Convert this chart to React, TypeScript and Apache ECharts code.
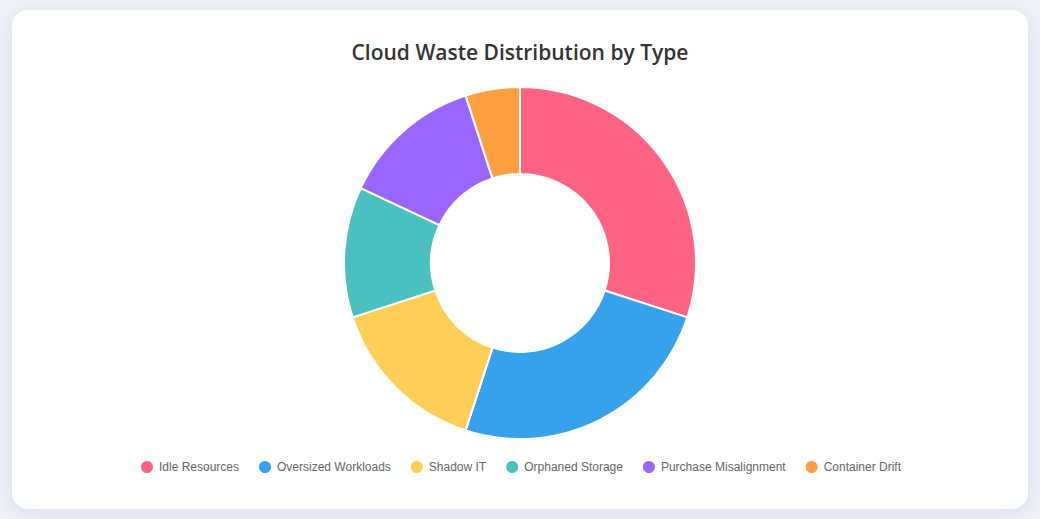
import React, { useEffect, useRef } from 'react';
import * as echarts from 'echarts';

const categories = [
  'Idle Resources',
  'Oversized Workloads',
  'Shadow IT',
  'Orphaned Storage',
  'Purchase Misalignment',
  'Container Drift',
];
const shares = [30, 25, 15, 12, 13, 5];
const colors = ['#FF6384', '#36A2EB', '#FFCE56', '#4BC0C0', '#9966FF', '#FF9F40'];

export default function App() {
  const chartRef = useRef<HTMLDivElement>(null);

  useEffect(() => {
    if (!chartRef.current) return;
    const chart = echarts.init(chartRef.current, undefined, { renderer: 'svg' });

    const option: echarts.EChartsOption = {
      animation: false,
      title: {
        text: 'Cloud Waste Distribution by Type',
        left: 'center',
        top: 26,
        textStyle: {
          fontFamily: '"Open Sans", sans-serif',
          fontSize: 21,
          fontWeight: 600,
          color: '#333333',
        },
      },
      legend: {
        bottom: 29,
        left: 'center',
        icon: 'circle',
        itemWidth: 14,
        itemHeight: 14,
        itemGap: 18,
        textStyle: {
          fontFamily: '"Liberation Sans", Arial, sans-serif',
          fontSize: 12,
          color: '#666666',
        },
      },
      series: [
        {
          name: 'Cloud Waste',
          type: 'pie',
          center: [508, 253],
          radius: [89, 176],
          startAngle: 90,
          clockwise: true,
          label: { show: false },
          labelLine: { show: false },
          itemStyle: { borderColor: '#ffffff', borderWidth: 2 },
          emphasis: { disabled: true },
          data: categories.map((name, i) => ({
            name,
            value: shares[i],
            itemStyle: { color: colors[i] },
          })),
        },
      ],
    };
    chart.setOption(option);

    const resizeHandler = () => chart.resize();
    window.addEventListener('resize', resizeHandler);
    return () => {
      window.removeEventListener('resize', resizeHandler);
      chart.dispose();
    };
  }, []);

  return (
    <div
      style={{
        position: 'fixed',
        inset: 0,
        background: '#eef0f8',
      }}
    >
      <div
        style={{
          position: 'absolute',
          left: 12,
          top: 10,
          width: 1016,
          height: 499,
          background: '#ffffff',
          borderRadius: 16,
          boxShadow: '0 4px 14px rgba(60, 70, 120, 0.10)',
        }}
      >
        <div ref={chartRef} style={{ width: '100%', height: '100%' }} />
      </div>
    </div>
  );
}
